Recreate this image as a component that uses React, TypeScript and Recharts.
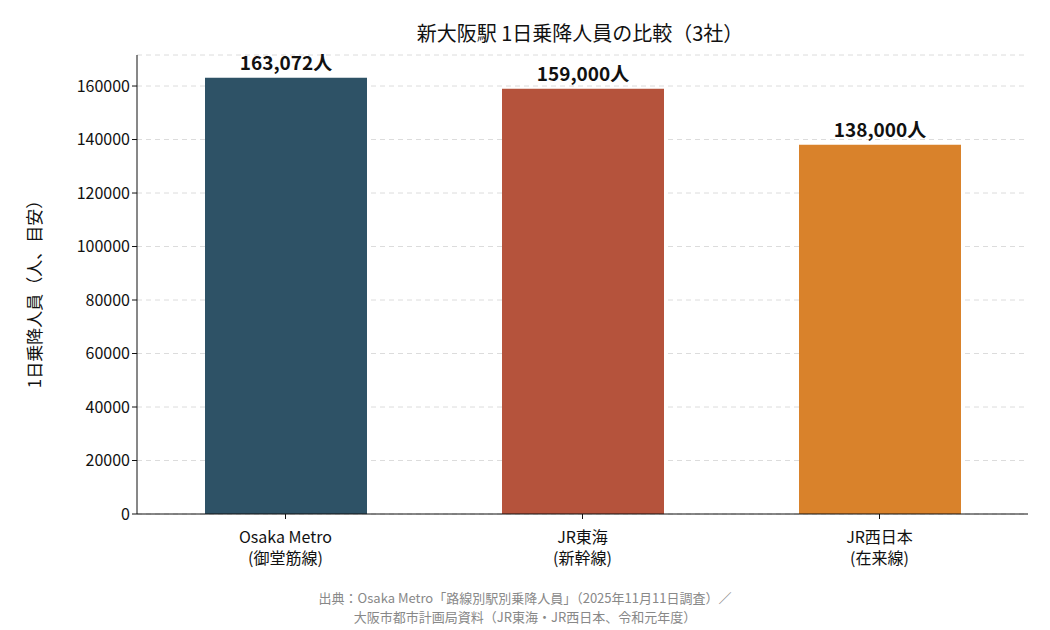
import React from 'react'
import { BarChart, Bar, XAxis, YAxis, CartesianGrid, LabelList, Cell } from 'recharts'

const companies = ['Osaka Metro\n(御堂筋線)', 'JR東海\n(新幹線)', 'JR西日本\n(在来線)']
const riders = [163072, 159000, 138000]
const colors = ['#2e5266', '#b5533c', '#d9822b']
const yTicks = [0, 20000, 40000, 60000, 80000, 100000, 120000, 140000, 160000]

const data = companies.map((name, i) => ({ name, value: riders[i] }))
const font = '"Noto Sans CJK JP", "Noto Sans", sans-serif'

const XTick = (props: any) => {
  const { x, y, payload } = props
  const lines = String(payload.value).split('\n')
  return (
    <g>
      {lines.map((l, i) => (
        <text key={i} x={x} y={y + 22 + i * 21} textAnchor="middle" fontSize={16} fill="#111" fontFamily={font}>{l}</text>
      ))}
    </g>
  )
}

export default function App() {
  return (
    <div style={{ position: 'absolute', left: 0, top: 0, width: 1050, height: 630, background: '#fff', fontFamily: font }}>
      <div style={{ position: 'absolute', top: 18, left: 0, width: 1160, textAlign: 'center', fontSize: 20, color: '#111' }}>
        新大阪駅 1日乗降人員の比較（3社）
      </div>
      <div style={{ position: 'absolute', left: 33, top: 290, transform: 'translate(-50%,-50%) rotate(-90deg)', fontSize: 17, whiteSpace: 'nowrap', color: '#111' }}>
        1日乗降人員（人、目安）
      </div>
      <BarChart width={1050} height={630} data={data} margin={{ top: 55, right: 22, left: 0, bottom: 0 }}>
        <CartesianGrid vertical={false} strokeDasharray="5 4" stroke="#dcdcdc" />
        <XAxis dataKey="name" tick={<XTick />} axisLine={{ stroke: '#111' }} tickLine={{ stroke: '#111' }} tickSize={5} interval={0} height={116} />
        <YAxis ticks={yTicks} domain={[0, 171600]} axisLine={{ stroke: '#111' }} tickLine={{ stroke: '#111' }} tickSize={5}
          tick={{ fontSize: 16, fill: '#111', fontFamily: font }} width={137} />
        <Bar dataKey="value" barSize={162} isAnimationActive={false}>
          {data.map((d, i) => <Cell key={i} fill={colors[i]} />)}
          <LabelList dataKey="value" position="top" offset={8}
            formatter={(v: any) => `${Number(v).toLocaleString('en-US')}人`}
            style={{ fontSize: 19, fontWeight: 700, fill: '#111', fontFamily: font }} />
        </Bar>
      </BarChart>
      <div style={{ position: 'absolute', top: 588, left: 0, width: 1050, textAlign: 'center', fontSize: 13, color: '#888', lineHeight: '19px' }}>
        出典：Osaka Metro「路線別駅別乗降人員」（2025年11月11日調査）／<br />
        大阪市都市計画局資料（JR東海・JR西日本、令和元年度）
      </div>
    </div>
  )
}
